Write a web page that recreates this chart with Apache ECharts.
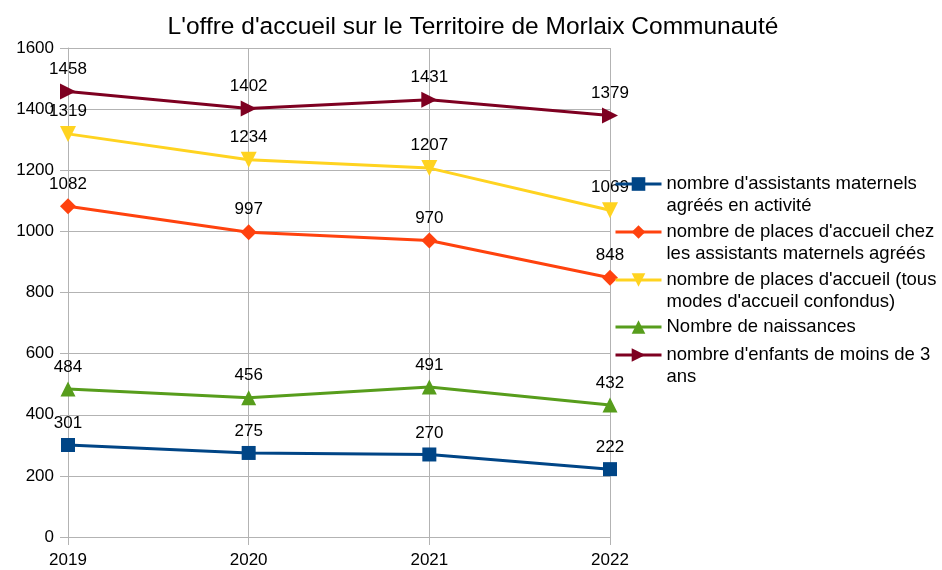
<!DOCTYPE html>
<html>
<head>
<meta charset="utf-8">
<script src="https://cdn.jsdelivr.net/npm/echarts@6/dist/echarts.min.js"></script>
<style>
  html, body { margin: 0; padding: 0; background: #fff; }
  #chart { width: 942px; height: 570px; }
</style>
</head>
<body>
<div id="chart"></div>
<script>
var years = ['2019', '2020', '2021', '2022'];
var assistants = [301, 275, 270, 222];
var placesAssistants = [1082, 997, 970, 848];
var placesTous = [1319, 1234, 1207, 1069];
var naissances = [484, 456, 491, 432];
var enfants = [1458, 1402, 1431, 1379];

var names = [
    "nombre d'assistants maternels\nagréés en activité",
    "nombre de places d'accueil chez\nles assistants maternels agréés",
    "nombre de places d'accueil (tous\nmodes d'accueil confondus)",
    "Nombre de naissances",
    "nombre d'enfants de moins de 3\nans"
];
var colors = ['#004586', '#ff420e', '#ffd320', '#579d1c', '#7e0021'];
var font = '"Liberation Sans", Arial, sans-serif';

function makeSeries(idx, data, symbol, size, rotate) {
    return {
        name: names[idx],
        type: 'line',
        data: data,
        color: colors[idx],
        symbol: symbol,
        symbolSize: size,
        symbolRotate: rotate || 0,
        lineStyle: { width: 3 },
        label: {
            show: true,
            position: 'top',
            distance: 6,
            color: '#000',
            fontSize: 17,
            fontFamily: font
        }
    };
}

// one legend per item; a blank first line puts the icon on the first text line
var iconY = [184, 232, 280, 327, 355];
var legends = names.map(function (n, i) {
    var twoLines = n.indexOf('\n') >= 0;
    return {
        data: [n],
        left: 614,
        top: twoLines ? iconY[i] - 33 : iconY[i] - 11,
        padding: 0,
        itemWidth: 46,
        itemHeight: 17,
        itemGap: 0,
        lineStyle: { width: 3 },
        formatter: function (name) { return twoLines ? '\n' + name : name; },
        textStyle: { fontSize: 18.5, lineHeight: 22, color: '#000', fontFamily: font }
    };
});

var chart = echarts.init(document.getElementById('chart'));
chart.setOption({
    animation: false,
    backgroundColor: '#fff',
    title: {
        text: "L'offre d'accueil sur le Territoire de Morlaix Communauté",
        left: 468,
        textAlign: 'center',
        top: 10,
        textStyle: { fontSize: 24.5, fontWeight: 'normal', color: '#000', fontFamily: font }
    },
    legend: legends,
    grid: { left: 68, right: 332, top: 48, bottom: 33 },
    xAxis: {
        type: 'category',
        data: years,
        boundaryGap: false,
        axisLine: { lineStyle: { color: '#b3b3b3', width: 1 } },
        axisTick: { show: true, length: 8, lineStyle: { color: '#b3b3b3' } },
        splitLine: { show: true, lineStyle: { color: '#b3b3b3', width: 1 } },
        axisLabel: { color: '#000', fontSize: 17, fontFamily: font, margin: 15 }
    },
    yAxis: {
        type: 'value',
        min: 0,
        max: 1600,
        interval: 200,
        axisLine: { show: true, lineStyle: { color: '#b3b3b3', width: 1 } },
        axisTick: { show: true, length: 8, lineStyle: { color: '#b3b3b3' } },
        splitLine: { show: true, lineStyle: { color: '#b3b3b3', width: 1 } },
        axisLabel: {
            color: '#000', fontSize: 17, fontFamily: font, margin: 14,
            formatter: function (v) { return String(v); }
        }
    },
    series: [
        makeSeries(0, assistants, 'rect', 14),
        makeSeries(1, placesAssistants, 'diamond', 16),
        makeSeries(2, placesTous, 'triangle', 16, 180),
        makeSeries(3, naissances, 'triangle', 15),
        makeSeries(4, enfants, 'triangle', 16, -90)
    ]
});
</script>
</body>
</html>
